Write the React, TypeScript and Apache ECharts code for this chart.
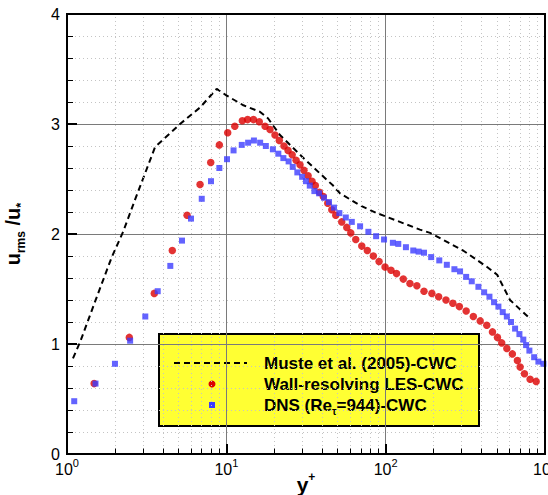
import React, { useEffect, useRef } from "react";
import * as echarts from "echarts";

// Muste et al. (2005)-CWC (dashed line)
const musteX = [1.09, 1.21, 1.54, 1.91, 2.25, 2.67, 3.3, 3.57, 5.12, 6.84, 8.7, 10.0, 12.8, 16.3, 18.3, 21.7, 30, 38.7, 46.8, 51.7, 69, 88, 100, 164, 190, 306, 433, 501, 603, 807];
const musteY = [0.87, 1.02, 1.43, 1.79, 2.02, 2.31, 2.66, 2.79, 3.0, 3.15, 3.32, 3.26, 3.17, 3.11, 3.05, 2.9, 2.7, 2.55, 2.44, 2.37, 2.26, 2.19, 2.16, 2.04, 2.01, 1.85, 1.7, 1.63, 1.4, 1.23];

// Wall-resolving LES-CWC (red circles)
const lesX = [1.48, 2.46, 3.53, 4.58, 5.67, 6.84, 7.98, 9.04, 10.2, 11.3, 12.6, 13.6, 14.8, 16.1, 17.5, 18.8, 20.2, 21.5, 23.0, 24.4, 25.9, 27.4, 29.0, 30.7, 32.6, 34.5, 36.2, 38.4, 40.6, 43.3, 45.9, 48.6, 53, 57, 60.4, 64.9, 70.8, 76.7, 83.7, 90.9, 99.1, 108, 117, 129, 142, 157, 174, 195, 215, 239, 264, 290, 320, 355, 392, 431, 468, 503, 535, 576, 624, 671, 698, 743, 806, 880];
const lesY = [0.64, 1.06, 1.46, 1.85, 2.17, 2.45, 2.65, 2.81, 2.92, 2.98, 3.03, 3.04, 3.04, 3.02, 2.98, 2.95, 2.9, 2.85, 2.8, 2.76, 2.72, 2.67, 2.63, 2.58, 2.53, 2.48, 2.44, 2.38, 2.34, 2.28, 2.22, 2.17, 2.11, 2.06, 2.01, 1.95, 1.89, 1.85, 1.8, 1.75, 1.7, 1.67, 1.64, 1.59, 1.55, 1.53, 1.48, 1.46, 1.43, 1.4, 1.37, 1.34, 1.3, 1.25, 1.21, 1.17, 1.11, 1.06, 1.01, 0.96, 0.91, 0.85, 0.79, 0.73, 0.68, 0.66];

// DNS (Re_tau=944)-CWC (blue squares)
const dnsX = [1.11, 1.51, 2.0, 2.49, 3.1, 3.71, 4.45, 5.27, 6.0, 7.01, 8.01, 9.04, 10.1, 11.1, 12.5, 13.7, 14.9, 16.3, 17.7, 19.6, 21.2, 22.8, 24.6, 26.1, 27.9, 29.9, 31.6, 33.4, 35.7, 38.2, 41.0, 44.1, 47.4, 51.2, 56.2, 61.3, 69.1, 77.9, 87.1, 97.7, 111, 120, 134, 149, 161, 174, 193, 217, 242, 270, 293, 320, 347, 382, 415, 448, 479, 510, 543, 576, 612, 649, 691, 731, 761, 798, 855, 909, 977];
const dnsY = [0.48, 0.64, 0.82, 1.03, 1.25, 1.48, 1.71, 1.94, 2.14, 2.32, 2.48, 2.6, 2.68, 2.76, 2.81, 2.83, 2.85, 2.83, 2.8, 2.77, 2.73, 2.69, 2.66, 2.61, 2.56, 2.52, 2.48, 2.44, 2.39, 2.37, 2.33, 2.29, 2.24, 2.19, 2.15, 2.11, 2.07, 2.02, 1.98, 1.95, 1.92, 1.91, 1.88, 1.85, 1.84, 1.83, 1.79, 1.76, 1.72, 1.68, 1.66, 1.61, 1.57, 1.52, 1.47, 1.43, 1.38, 1.34, 1.29, 1.25, 1.2, 1.14, 1.09, 1.04, 0.99, 0.94, 0.88, 0.84, 0.82];

// minor log positions on x
const xMinorTicks = [2, 3, 4, 5, 6, 7, 8, 9, 20, 30, 40, 50, 60, 70, 80, 90, 200, 300, 400, 500, 600, 700, 800, 900];

const legendLabels = ["Muste et al. (2005)-CWC", "Wall-resolving LES-CWC", "DNS (Re", "=944)-CWC"];

const FONT = "'Liberation Sans', Arial, Helvetica, sans-serif";
const RED = "#dc0000";
const BLUE = "#3c3cff";

export default function App() {
  const ref = useRef<HTMLDivElement>(null);
  useEffect(() => {
    if (!ref.current) return;
    const chart = echarts.init(ref.current, null, { renderer: "svg" });
    const zip = (xs: number[], ys: number[]) => xs.map((x, i) => [x, ys[i]]);
    const option: any = {
      animation: false,
      backgroundColor: "#ffffff",
      textStyle: { fontFamily: FONT },
      grid: {
        left: 67,
        top: 14,
        right: 3,
        bottom: 41,
        containLabel: false,
        outerBoundsMode: "none",
        show: true,
        borderColor: "#000",
        borderWidth: 2,
        backgroundColor: "transparent",
        z: 10,
      },
      xAxis: {
        type: "log",
        logBase: 10,
        min: 1,
        max: 1000,
        name: "{a|y}{p|+}",
        nameLocation: "middle",
        nameGap: 17,
        nameMoveOverlap: false,
        nameTextStyle: {
          rich: {
            a: { fontFamily: FONT, fontSize: 21, fontWeight: "bold", color: "#000", lineHeight: 24, verticalAlign: "bottom" },
            p: { fontFamily: FONT, fontSize: 12, fontWeight: "bold", color: "#000", lineHeight: 24, verticalAlign: "top" },
          },
        },
        axisLine: { show: true, onZero: false, lineStyle: { color: "#000", width: 2 } },
        axisTick: { show: true, inside: true, length: 10, lineStyle: { color: "#000", width: 2 } },
        splitLine: { show: true, lineStyle: { color: "#7a7a7a", width: 1 } },
        axisLabel: {
          margin: 3,
          formatter: (v: number) => `{b|10}{s|${Math.round(Math.log10(v))}}`,
          rich: {
            b: { fontFamily: FONT, fontSize: 16, color: "#000", lineHeight: 20, verticalAlign: "bottom" },
            s: { fontFamily: FONT, fontSize: 11, color: "#000", lineHeight: 20, verticalAlign: "top" },
          },
        },
      },
      yAxis: {
        type: "value",
        min: 0,
        max: 4,
        interval: 1,
        name: "{a|u}{s|rms}{a| /u}{t|*}",
        nameLocation: "middle",
        nameGap: 40,
        nameMoveOverlap: false,
        nameRotate: 90,
        nameTextStyle: {
          rich: {
            a: { fontFamily: FONT, fontSize: 20, fontWeight: "bold", color: "#000", lineHeight: 24, verticalAlign: "top" },
            s: { fontFamily: FONT, fontSize: 12, fontWeight: "bold", color: "#000", lineHeight: 24, verticalAlign: "bottom" },
            t: { fontFamily: FONT, fontSize: 13, fontWeight: "bold", color: "#000", lineHeight: 24, verticalAlign: "bottom" },
          },
        },
        axisLine: { show: true, lineStyle: { color: "#000", width: 2 } },
        axisTick: { show: true, inside: true, length: 10, lineStyle: { color: "#000", width: 2 } },
        minorTick: { show: true, splitNumber: 5, length: 6, lineStyle: { color: "#000", width: 1 } },
        splitLine: { show: true, lineStyle: { color: "#7a7a7a", width: 1 } },
        minorSplitLine: { show: true, lineStyle: { color: "#c4c4c4", width: 1, type: [1, 3] } },
        axisLabel: { fontFamily: FONT, fontSize: 16, color: "#000", margin: 7 },
      },
      series: [
        {
          name: "minor-grid",
          type: "line",
          data: [],
          silent: true,
          z: 1,
          markLine: {
            silent: true,
            symbol: ["none", "none"],
            label: { show: false },
            animation: false,
            lineStyle: { color: "#c4c4c4", width: 1, type: [1, 3] },
            data: xMinorTicks.map((v) => ({ xAxis: v })),
          },
        },
        {
          name: "minor-ticks",
          type: "line",
          data: [],
          silent: true,
          z: 3,
          markLine: {
            silent: true,
            symbol: ["none", "none"],
            label: { show: false },
            animation: false,
            lineStyle: { color: "#000", width: 1, type: "solid" },
            data: xMinorTicks.map((v) => [{ coord: [v, 0] }, { coord: [v, 0.05] }]),
          },
        },
        {
          name: "Muste et al. (2005)-CWC",
          type: "line",
          data: zip(musteX, musteY),
          showSymbol: false,
          symbol: "none",
          z: 4,
          lineStyle: { color: "#000", width: 2, type: [6, 4] },
        },
        {
          name: "Wall-resolving LES-CWC",
          type: "scatter",
          data: zip(lesX, lesY),
          symbol: "circle",
          symbolSize: 7.5,
          z: 5,
          itemStyle: { color: RED },
        },
        {
          name: "DNS (Re_tau=944)-CWC",
          type: "scatter",
          data: zip(dnsX, dnsY),
          symbol: "rect",
          symbolSize: 6,
          z: 6,
          itemStyle: { color: BLUE },
        },
      ],
      graphic: [
        {
          type: "group",
          z: 100,
          children: [
            {
              type: "rect",
              shape: { x: 159, y: 334, width: 320, height: 92 },
              style: { fill: "#ffff33", stroke: "#000", lineWidth: 2 },
            },
            {
              type: "line",
              shape: { x1: 174, y1: 363, x2: 247, y2: 363 },
              style: { stroke: "#000", lineWidth: 2, lineDash: [6, 4] },
            },
            {
              type: "circle",
              shape: { cx: 212, cy: 384, r: 3.5 },
              style: { fill: RED },
            },
            {
              type: "rect",
              shape: { x: 209, y: 402, width: 6, height: 6 },
              style: { fill: BLUE },
            },
            {
              type: "text",
              x: 264,
              y: 363,
              style: {
                text: legendLabels[0],
                fontFamily: FONT,
                fontSize: 17,
                fontWeight: "bold",
                fill: "#000",
                verticalAlign: "middle",
              },
            },
            {
              type: "text",
              x: 264,
              y: 384,
              style: {
                text: legendLabels[1],
                fontFamily: FONT,
                fontSize: 17,
                fontWeight: "bold",
                fill: "#000",
                verticalAlign: "middle",
              },
            },
            {
              type: "text",
              x: 264,
              y: 405,
              style: {
                text: `{n|${legendLabels[2]}}{s|τ}{n|${legendLabels[3]}}`,
                verticalAlign: "middle",
                rich: {
                  n: { fontFamily: FONT, fontSize: 17, fontWeight: "bold", fill: "#000", lineHeight: 22, verticalAlign: "middle" },
                  s: { fontFamily: FONT, fontSize: 10, fontWeight: "bold", fill: "#000", lineHeight: 22, verticalAlign: "bottom" },
                },
              },
            },
          ],
        },
      ],
    };
    chart.setOption(option);
    return () => chart.dispose();
  }, []);
  return (
    <div
      ref={ref}
      style={{ position: "fixed", left: 0, top: 0, width: 548, height: 495 }}
    />
  );
}
